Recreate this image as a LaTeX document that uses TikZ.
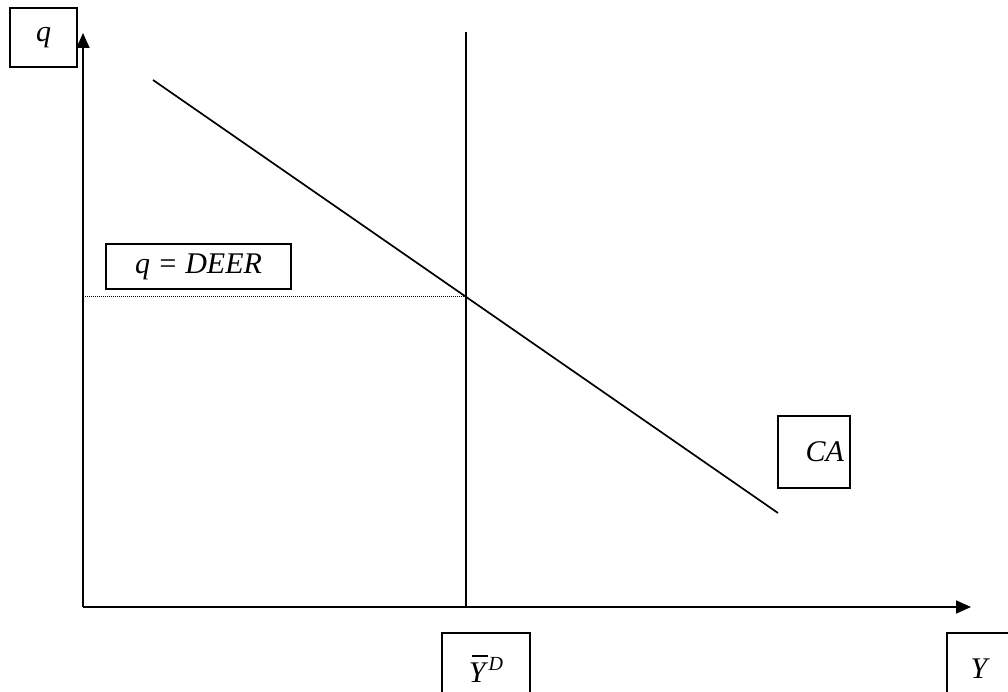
\documentclass[tikz,border=0pt]{standalone}
\usepackage{fontspec}
\setmainfont{Liberation Serif}
\usetikzlibrary{arrows.meta}
\begin{document}
\begin{tikzpicture}[x=1pt,y=-1pt,
  boxed/.style={draw,line width=1.7pt,inner sep=0pt,font=\fontsize{30}{34}\selectfont\itshape},
  ln/.style={line width=1.7pt},
  axis/.style={line width=1.7pt,-{Triangle[length=15pt,width=13pt]}}]
\clip (0,0) rectangle (1008,692);
% coordinates
\coordinate (O) at (83,607);
\coordinate (ytop) at (83,33);
\coordinate (xend) at (971,607);
\coordinate (vt) at (466,32);
\coordinate (vb) at (466,607);
\coordinate (ca1) at (153,80);
\coordinate (ca2) at (778,513);
\coordinate (d1) at (85,296);
\coordinate (d2) at (466,296);
% lines
\draw[axis] (O) -- (ytop);
\draw[axis] (O) -- (xend);
\draw[ln] (vt) -- (vb);
\draw[ln] (ca1) -- (ca2);
\draw[line width=1pt,dash pattern=on 1pt off 1pt] (d1) -- (d2);
% boxes
\node[boxed,minimum width=67,minimum height=59] (qbox) at (43.5,37.5) {q};
\node[boxed,minimum width=185,minimum height=45] (deer) at (198.5,266.5) {q = DEER};
\node[boxed,minimum width=72,minimum height=72,text width=60,align=right] (ca) at (814,452) {CA};
\node[boxed,minimum width=88,minimum height=72,anchor=north] (yd) at (486,632) {\makebox[0pt][l]{\hspace{3pt}\rule[0.85em]{16pt}{1.3pt}}Y\hspace{3pt}\raisebox{0.4em}{\fontsize{20}{24}\selectfont D}};
\node[boxed,minimum width=80,minimum height=72,anchor=north west] (y) at (946,632) {\hspace{-16pt}Y};
\end{tikzpicture}
\end{document}
